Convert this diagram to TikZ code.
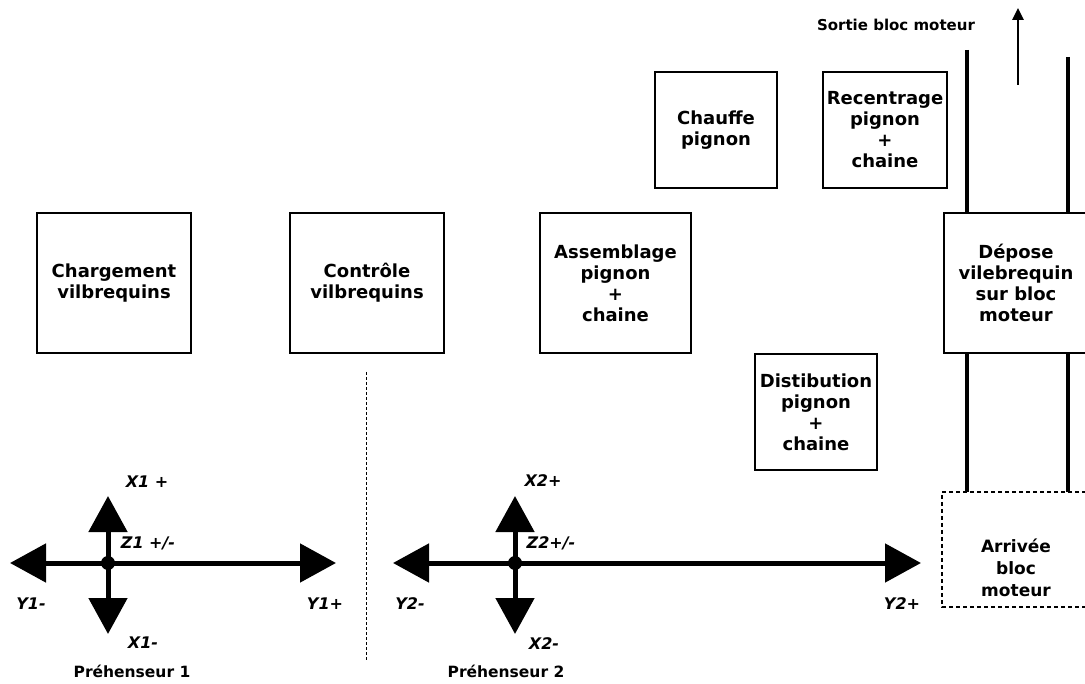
\documentclass[tikz,border=0pt]{standalone}
\usepackage{fontspec}
\setmainfont{DejaVu Sans}
\usetikzlibrary{arrows.meta}
\tikzset{
  box/.style={draw, line width=2.4pt, inner sep=0pt, align=center,
    font=\bfseries\fontsize{18}{21}\selectfont},
  txt/.style={inner sep=0pt, align=center, font=\bfseries\fontsize{18}{21}\selectfont},
  lbl/.style={inner sep=0pt, font=\bfseries\itshape\fontsize{16}{18}\selectfont},
  plbl/.style={inner sep=0pt, font=\bfseries\fontsize{15.5}{18}\selectfont},
  axis/.style={line width=5pt, -{Triangle[width=38pt,length=36pt]}},
  rail/.style={line width=3.2pt},
}
\begin{document}
\begin{tikzpicture}[x=1pt,y=-1pt]
\useasboundingbox (0,0) rectangle (1085,684);

% process boxes
\node[box, minimum width=154pt, minimum height=140pt] (charg) at (114,283) {Chargement\\vilbrequins};
\node[box, minimum width=154pt, minimum height=140pt] (ctrl) at (367,283) {Contrôle\\vilbrequins};
\node[box, minimum width=151pt, minimum height=140pt] (assem) at (615.5,283) {Assemblage\\pignon\\+\\chaine};
\node[box, minimum width=122pt, minimum height=116pt] (chauf) at (716,130) {Chauffe\\pignon};
\node[box, minimum width=124pt, minimum height=116pt] (recen) at (885,130) {Recentrage\\pignon\\+\\chaine};
\node[box, minimum width=122pt, minimum height=116pt] (distr) at (816,412) {Distibution\\pignon\\+\\chaine};

% Dépose box (open on the right edge)
\node[inner sep=0pt, minimum width=141pt, minimum height=140pt] (depose) at (1014.5,283) {};
\draw[line width=2.4pt] (1086,213) -- (944,213) -- (944,353) -- (1086,353);
\node[txt] (deptxt) at (1016,283) {Dépose\\vilebrequin\\sur bloc\\moteur};

% Arrivée box (dashed, open on the right edge)
\node[inner sep=0pt, minimum width=143pt, minimum height=115pt] (arriv) at (1013.5,549.5) {};
\draw[line width=2.2pt, dash pattern=on 4pt off 3pt] (1086,492) -- (942,492) -- (942,607) -- (1086,607);
\node[txt, font=\bfseries\fontsize{17}{22}\selectfont] (arrtxt) at (1016,568) {Arrivée\\bloc\\moteur};

% rails
\coordinate (r1top) at (967,50);
\coordinate (r2top) at (1068,57);
\draw[rail] (r1top) -- (r1top |- depose.north);
\draw[rail] (r2top) -- (r2top |- depose.north);
\draw[rail] (depose.south -| r1top) -- (arriv.north -| r1top);
\draw[rail] (depose.south -| r2top) -- (arriv.north -| r2top);

% output arrow
\coordinate (outA) at (1018,85);
\coordinate (outB) at (1018,8);
\draw[line width=2.6pt, -{Triangle[width=11pt,length=12pt]}] (outA) -- (outB);
\node[plbl, font=\bfseries\fontsize{15}{17}\selectfont] (sortie) at (896,25) {Sortie bloc moteur};

% dashed separator
\coordinate (sepA) at (366,372);
\coordinate (sepB) at (366,660);
\draw[line width=1pt, dash pattern=on 3pt off 2pt] (sepA) -- (sepB);

% gripper 1
\coordinate (c1) at (108,563);
\coordinate (y1m) at (10,563);
\coordinate (y1p) at (336,563);
\coordinate (x1p) at (108,496);
\coordinate (x1m) at (108,634);
\draw[axis] (c1) -- (y1m);
\draw[axis] (c1) -- (y1p);
\draw[axis] (c1) -- (x1p);
\draw[axis] (c1) -- (x1m);
\fill (c1) circle (7pt);
\node[lbl] (lx1p) at (147,482) {X1 +};
\node[lbl] (lz1) at (148,543) {Z1 +/-};
\node[lbl] (ly1m) at (31,604) {Y1-};
\node[lbl] (ly1p) at (325,604) {Y1+};
\node[lbl] (lx1m) at (143,643) {X1-};
\node[plbl] (p1) at (132,671) {Préhenseur 1};

% gripper 2
\coordinate (c2) at (515,563);
\coordinate (y2m) at (410,604);
\coordinate (y2p) at (921,563);
\coordinate (x2p) at (515,496);
\coordinate (x2m) at (515,634);
\coordinate (y2mm) at (393,563);
\draw[axis] (c2) -- (y2mm);
\draw[axis] (c2) -- (y2p);
\draw[axis] (c2) -- (x2p);
\draw[axis] (c2) -- (x2m);
\fill (c2) circle (7pt);
\node[lbl] (lx2p) at (543,481) {X2+};
\node[lbl] (lz2) at (551,543) {Z2+/-};
\node[lbl] (ly2m) at (410,604) {Y2-};
\node[lbl] (ly2p) at (902,604) {Y2+};
\node[lbl] (lx2m) at (544,644) {X2-};
\node[plbl] (p2) at (506,671) {Préhenseur 2};
\end{tikzpicture}
\end{document}
